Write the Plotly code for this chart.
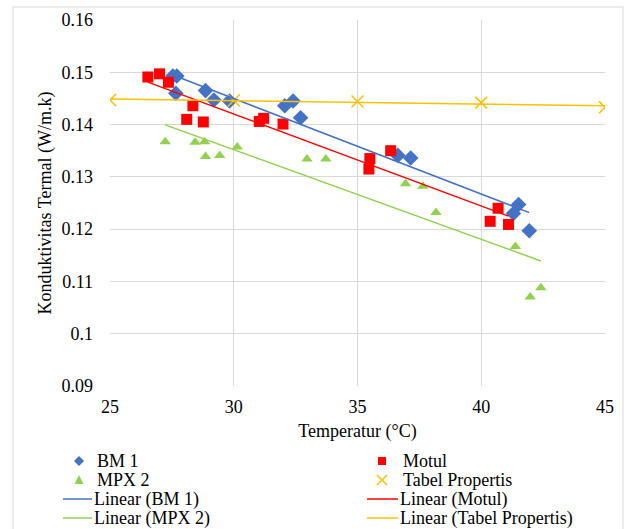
import numpy as np
import plotly.graph_objects as go

# ---- data ----
bm1_x = [27.54, 27.70, 27.66, 28.86, 29.20, 29.83, 32.06, 32.40, 32.70,
         36.63, 37.15, 41.30, 41.51, 41.94]
bm1_y = [0.1493, 0.1493, 0.1460, 0.1465, 0.1447, 0.1445, 0.1436, 0.1445, 0.1413,
         0.1341, 0.1336, 0.1230, 0.1247, 0.1197]

motul_x = [26.53, 27.00, 27.36, 28.35, 28.10, 28.77, 31.03, 31.21, 31.99,
           35.50, 35.46, 36.34, 40.36, 40.68, 41.10]
motul_y = [0.1491, 0.1497, 0.1481, 0.1436, 0.1410, 0.1405, 0.1406, 0.1412, 0.1401,
           0.1335, 0.1315, 0.1350, 0.1215, 0.1240, 0.1209]

mpx2_x = [27.23, 28.44, 28.82, 28.86, 29.43, 30.14, 32.96, 33.72,
          36.94, 37.64, 38.17, 41.38, 41.98, 42.41]
mpx2_y = [0.1367, 0.1366, 0.1367, 0.1339, 0.1341, 0.1357, 0.1334, 0.1334,
          0.1287, 0.1282, 0.1232, 0.1167, 0.1070, 0.1088]

tabel_x = [25, 30, 35, 40, 45]
tabel_y = [0.1447, 0.1446, 0.1444, 0.1442, 0.1433]

x_ticks = [25, 30, 35, 40, 45]
y_ticks = [0.09, 0.10, 0.11, 0.12, 0.13, 0.14, 0.15, 0.16]

series_names = ["BM 1", "Motul", "MPX 2", "Tabel Propertis"]
series_x = [bm1_x, motul_x, mpx2_x, tabel_x]
series_y = [bm1_y, motul_y, mpx2_y, tabel_y]

# styles
colors = ["#4472C4", "#FF0000", "#92D050", "#FFC000"]
symbols = ["diamond", "square", "triangle-up", "x-thin"]
sizes = [12, 11, 10, 12]

FONT = "Liberation Serif, Times New Roman, serif"
FS = 18
W, H = 625, 529
ml, mr, mt, mb = 110, 20, 20, 143
pw, ph = W - ml - mr, H - mt - mb


def px_x(p):
    return (p - ml) / pw


def px_y(p):
    return (H - mb - p) / ph


fig = go.Figure()

for name, xs, ys, col, sym, sz in zip(series_names, series_x, series_y, colors, symbols, sizes):
    mk = dict(color=col, symbol=sym, size=sz)
    if sym == "x-thin":
        mk["line"] = dict(color=col, width=1.5)
    fig.add_trace(go.Scatter(x=xs, y=ys, mode="markers", name=name, marker=mk,
                             showlegend=False))

for name, xs, ys, col in zip(series_names, series_x, series_y, colors):
    xa = np.array(xs); ya = np.array(ys)
    m, b = np.polyfit(xa, ya, 1)
    xl = np.array([xa.min(), xa.max()])
    fig.add_trace(go.Scatter(x=xl, y=m * xl + b, mode="lines",
                             name=f"Linear ({name})", showlegend=False,
                             line=dict(color=col, width=1.5)))

# ---- manual legend (Excel-style, 2 columns x 4 rows) ----
col_sym_x = [79, 382]
col_txt_x = [95, 401]
col_line = [(63, 92), (367, 398)]
row_y = [461, 480, 499, 518]

shapes = [dict(type="rect", xref="paper", yref="paper",
               x0=px_x(13), x1=px_x(623), y0=px_y(540), y1=px_y(7),
               line=dict(color="#D9D9D9", width=1), layer="below")]
annotations = []

marker_paths = {
    "diamond": "M 0,5 L 5,0 L 0,-5 L -5,0 Z",
    "square": "M -4,-4 L 4,-4 L 4,4 L -4,4 Z",
    "triangle-up": "M -4.5,-4 L 4.5,-4 L 0,5 Z",
    "x-thin": "M -5,-5 L 5,5 M -5,5 L 5,-5",
}

for i, (name, col, sym) in enumerate(zip(series_names, colors, symbols)):
    c = i % 2
    r = i // 2
    is_x = sym == "x-thin"
    shapes.append(dict(type="path", xref="paper", yref="paper",
                       xsizemode="pixel", ysizemode="pixel",
                       xanchor=px_x(col_sym_x[c]), yanchor=px_y(row_y[r]),
                       path=marker_paths[sym],
                       fillcolor="rgba(0,0,0,0)" if is_x else col,
                       line=dict(color=col, width=1.5 if is_x else 0)))
    annotations.append(dict(xref="paper", yref="paper", x=px_x(col_txt_x[c]), y=px_y(row_y[r]),
                            xanchor="left", yanchor="middle", showarrow=False, text=name,
                            font=dict(family=FONT, size=FS, color="#000000")))
    # trendline entries
    r2 = r + 2
    x0, x1 = col_line[c]
    shapes.append(dict(type="line", xref="paper", yref="paper",
                       x0=px_x(x0), x1=px_x(x1), y0=px_y(row_y[r2]), y1=px_y(row_y[r2]),
                       line=dict(color=col, width=1.5)))
    annotations.append(dict(xref="paper", yref="paper", x=px_x(col_txt_x[c] - 3), y=px_y(row_y[r2]),
                            xanchor="left", yanchor="middle", showarrow=False,
                            text=f"Linear ({name})",
                            font=dict(family=FONT, size=FS, color="#000000")))

fig.update_layout(
    width=W, height=H,
    margin=dict(l=ml, r=mr, t=mt, b=mb, autoexpand=False),
    paper_bgcolor="white", plot_bgcolor="white",
    font=dict(family=FONT, size=FS, color="#000000"),
    showlegend=False,
    shapes=shapes,
    annotations=annotations,
)

fig.update_xaxes(range=[25, 45], tickvals=x_ticks, showgrid=True, gridcolor="#D9D9D9",
                 gridwidth=1, zeroline=False, showline=False, ticks="",
                 ticklabelstandoff=8,
                 tickfont=dict(family=FONT, size=FS, color="#000000"),
                 title=dict(text="Temperatur (°C)", font=dict(family=FONT, size=FS), standoff=8))
fig.update_yaxes(range=[0.09, 0.16], tickvals=y_ticks, showgrid=True, gridcolor="#D9D9D9",
                 gridwidth=1, zeroline=False, showline=False, ticks="",
                 ticklabelstandoff=16,
                 tickfont=dict(family=FONT, size=FS, color="#000000"),
                 title=dict(text="Konduktivitas Termal (W/m.k)", font=dict(family=FONT, size=FS), standoff=5))

fig.write_html("out.html", config={"displayModeBar": False},
               post_script="document.body.style.margin='0';")
